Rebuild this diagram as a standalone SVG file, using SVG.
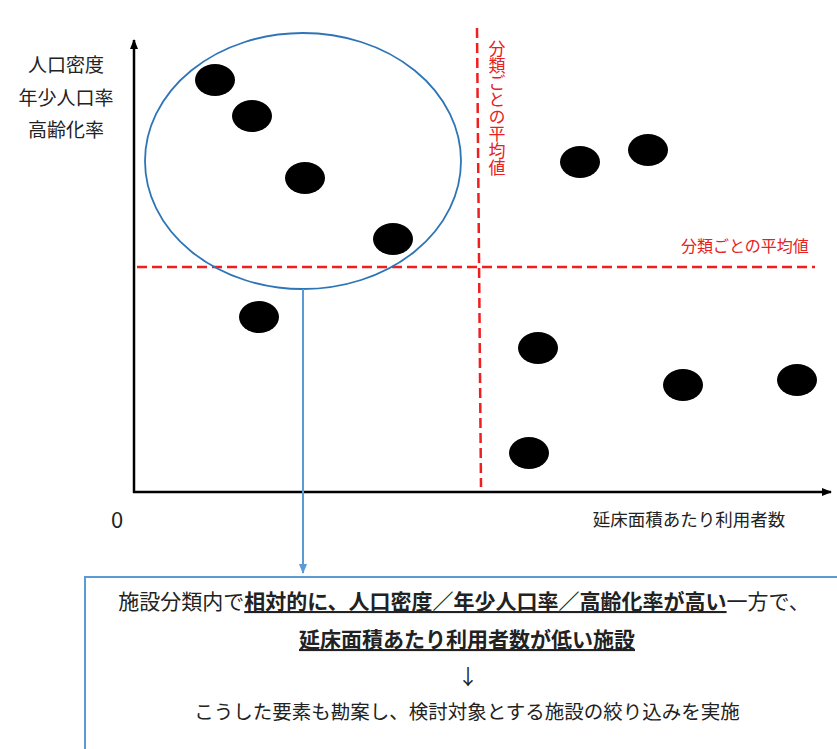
<svg xmlns="http://www.w3.org/2000/svg" width="837" height="749" viewBox="0 0 837 749">
<style>
text{font-family:"Noto Sans CJK JP","Noto Sans",sans-serif;fill:#222}
.lbl{font-size:19px}
.red{fill:#e8201e;font-size:16px}
.vert{writing-mode:vertical-rl;font-size:17px}
.dot{fill:#000}
.dash{stroke:#f01e1e;stroke-width:2.5;stroke-dasharray:10 5;fill:none}
.axis{stroke:#000;stroke-width:2.5;fill:none}
.box{font-size:21px}
.b{font-weight:bold;text-decoration:underline}
</style>
<defs>
<marker id="ah" markerWidth="10" markerHeight="10" refX="9" refY="5" orient="auto" markerUnits="userSpaceOnUse">
<path d="M0,1 L10,5 L0,9 Z" fill="#000"/>
</marker>
<marker id="bh" markerWidth="10" markerHeight="10" refX="9" refY="5" orient="auto" markerUnits="userSpaceOnUse">
<path d="M0,1 L10,5 L0,9 Z" fill="#5b9bd5"/>
</marker>
</defs>
<g id="axes">
<line class="axis" x1="134" y1="493" x2="134" y2="40" marker-end="url(#ah)"/>
<line class="axis" x1="133" y1="492" x2="831" y2="492" marker-end="url(#ah)"/>
<text x="117" y="528" font-size="22" text-anchor="middle" font-family="Liberation Sans,sans-serif">0</text>
<text x="689" y="526" font-size="17.5" text-anchor="middle">延床面積あたり利用者数</text>
<text class="lbl" x="66" y="72" text-anchor="middle">人口密度</text>
<text class="lbl" x="66" y="105" text-anchor="middle">年少人口率</text>
<text class="lbl" x="66" y="137" text-anchor="middle">高齢化率</text>
</g>
<g id="averages">
<line class="dash" x1="137" y1="267" x2="815" y2="267"/>
<line class="dash" x1="477" y1="28" x2="481" y2="487"/>
<text class="red" x="681" y="252">分類ごとの平均値</text>
<text class="red vert" x="497" y="40">分類ごとの平均値</text>
</g>
<g id="points">
<ellipse class="dot" cx="215" cy="80" rx="20" ry="16"/>
<ellipse class="dot" cx="252" cy="116" rx="20" ry="16"/>
<ellipse class="dot" cx="305" cy="178" rx="20" ry="16"/>
<ellipse class="dot" cx="393" cy="239" rx="20" ry="16"/>
<ellipse class="dot" cx="259" cy="317" rx="20" ry="16"/>
<ellipse class="dot" cx="580" cy="162" rx="20" ry="16"/>
<ellipse class="dot" cx="648" cy="150" rx="20" ry="16"/>
<ellipse class="dot" cx="538" cy="348" rx="20" ry="16"/>
<ellipse class="dot" cx="683" cy="385" rx="20" ry="16"/>
<ellipse class="dot" cx="797" cy="380" rx="20" ry="16"/>
<ellipse class="dot" cx="529" cy="453" rx="20" ry="16"/>
</g>
<g id="group-circle">
<ellipse cx="303" cy="161" rx="158" ry="128" fill="none" stroke="#2e75b6" stroke-width="1.8"/>
</g>
<g id="connectors">
<line x1="303" y1="289" x2="303" y2="573" stroke="#5b9bd5" stroke-width="2" marker-end="url(#bh)"/>
</g>
<g id="note">
<rect x="85" y="577" width="770" height="200" fill="#fff" stroke="#5b9bd5" stroke-width="2"/>
<text class="box" x="464" y="609" text-anchor="middle">施設分類内で<tspan class="b">相対的に、人口密度／年少人口率／高齢化率が高い</tspan>一方で、</text>
<text class="box" x="467" y="647" text-anchor="middle"><tspan class="b">延床面積あたり利用者数が低い施設</tspan></text>
<text class="box" x="468" y="684" text-anchor="middle">↓</text>
<text x="467" y="719" font-size="19.5" text-anchor="middle">こうした要素も勘案し、検討対象とする施設の絞り込みを実施</text>
</g>
</svg>
